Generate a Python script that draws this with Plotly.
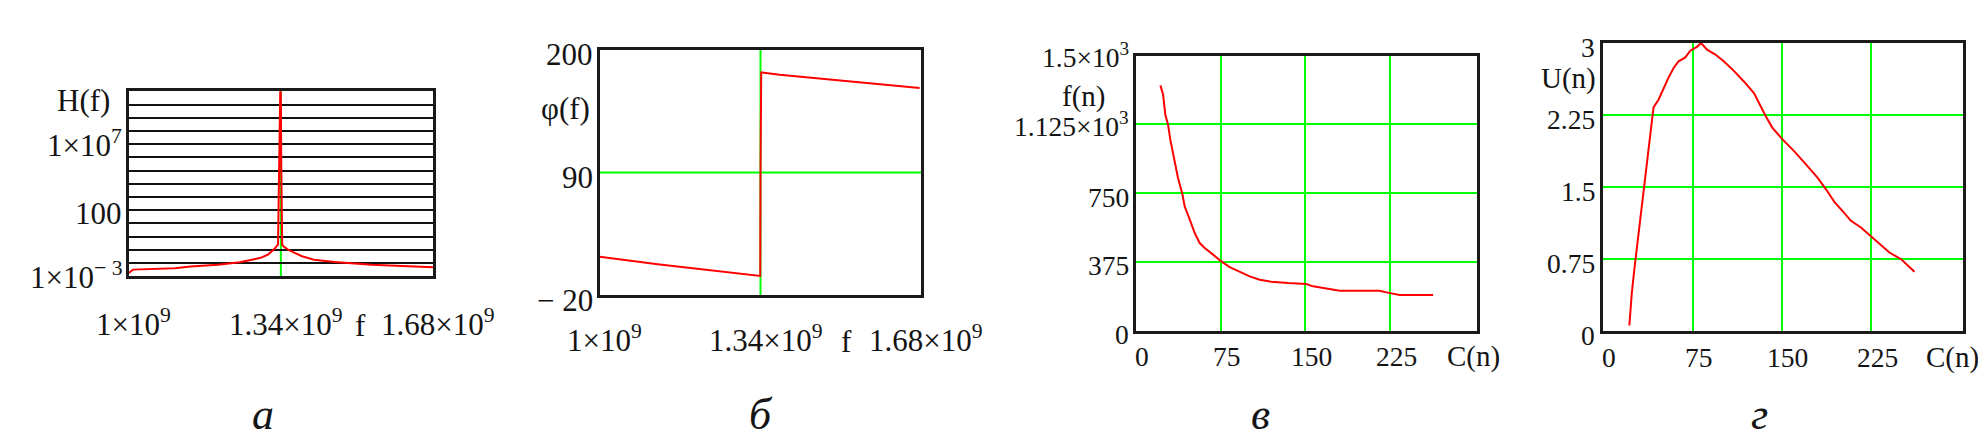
import math
import plotly.graph_objects as go

W, H = 1986, 438
SERIF = "Liberation Serif"
TXT = "#141414"
RED = "#ff0000"
GREEN = "#00ff00"

# ---------------- data ----------------
# panel а : H(f), log scale
a_f = [1.0000e9, 1.0097e9, 1.1028e9, 1.1385e9, 1.1996e9, 1.2480e9, 1.2756e9, 1.2949e9,
       1.3113e9, 1.3240e9, 1.3337e9, 1.3395e9, 1.3410e9, 1.3430e9, 1.3456e9, 1.3560e9,
       1.3709e9, 1.3873e9, 1.4141e9, 1.4603e9, 1.5422e9, 1.6353e9, 1.6800e9]
a_H = [1.8e-3, 3.2e-3, 4.0e-3, 5.4e-3, 7.6e-3, 1.15e-2, 1.8e-2, 2.5e-2,
       4.4e-2, 0.105, 0.25, 1e13, 1.6e5, 0.25, 0.19, 0.105,
       0.059, 0.033, 0.018, 0.0123, 0.0076, 0.0051, 0.0048]
a_xticks = [1.0e9, 1.34e9, 1.68e9]
a_xtext = ["1×10<sup>9</sup>", "1.34×10<sup>9</sup>", "1.68×10<sup>9</sup>"]
a_yticks = [1e-3, 100, 1e7]
a_ytext = ["1×10<sup>− 3</sup>", "100", "1×10<sup>7</sup>"]
a_marker = 1.34e9

# panel б : phase
b_f = [1.0000e9, 1.0303e9, 1.0775e9, 1.1268e9, 1.1783e9, 1.2325e9, 1.2889e9, 1.3347e9,
       1.3395e9, 1.3400e9, 1.3415e9, 1.3805e9, 1.4418e9, 1.5038e9, 1.5708e9, 1.6391e9, 1.6765e9]
b_phi = [14.5, 12.8, 9.9, 7.5, 5.1, 2.7, 0.0, -2.4,
         -2.6, 90.0, 179.7, 177.6, 175.2, 172.8, 170.4, 167.8, 165.7]
b_xticks = [1.0e9, 1.34e9, 1.68e9]
b_xtext = ["1×10<sup>9</sup>", "1.34×10<sup>9</sup>", "1.68×10<sup>9</sup>"]
b_yticks = [200, 90, -20]
b_ytext = ["200", "90", "− 20"]
b_marker_x = 1.34e9
b_marker_y = 90

# panel в : f(n) vs C(n)
c_C = [21.8, 24.2, 26.2, 28.6, 30.6, 34.5, 37.4, 41.3, 43.3, 47.8, 52.2, 56.6, 61.0, 68.4,
       75.7, 83.1, 91.9, 100.8, 109.6, 119.9, 134.7, 150.9, 156.8, 168.6, 180.4, 215.8,
       221.6, 233.4, 262.9]
c_f = [1338, 1288, 1178, 1124, 1042, 933, 833, 744, 678, 606, 533, 478, 451, 415,
       378, 347, 322, 296, 278, 267, 260, 255, 242, 231, 218, 218,
       209, 195, 195]
c_xticks = [0, 75, 150, 225]
c_xtext = ["0", "75", "150", "225"]
c_yticks = [0, 375, 750, 1125, 1500]
c_ytext = ["0", "375", "750", "1.125×10<sup>3</sup>", "1.5×10<sup>3</sup>"]

# panel г : U(n) vs C(n)
d_C = [21.9, 22.5, 23.9, 25.9, 28.1, 30.4, 32.3, 34.6, 36.6, 38.8, 40.8, 42.2, 46.4, 50.6,
       54.8, 59.1, 63.3, 68.9, 73.1, 78.7, 82.1, 87.2, 94.2, 101.2, 109.7, 118.1, 126.6,
       136.4, 142.0, 150.4, 160.3, 170.1, 180.0, 187.0, 194.0, 201.1, 208.1, 216.5, 225.0,
       233.4, 240.4, 250.3, 261.5]
d_U = [0.06, 0.17, 0.39, 0.625, 0.85, 1.08, 1.28, 1.50, 1.74, 1.95, 2.17, 2.33, 2.41, 2.53,
       2.64, 2.74, 2.81, 2.85, 2.92, 2.96, 3.00, 2.93, 2.88, 2.81, 2.71, 2.60, 2.48,
       2.24, 2.12, 2.00, 1.875, 1.74, 1.60, 1.48, 1.35, 1.25, 1.15, 1.08, 0.99,
       0.90, 0.82, 0.75, 0.62]
d_xticks = [0, 75, 150, 225]
d_xtext = ["0", "75", "150", "225"]
d_yticks = [0, 0.75, 1.5, 2.25, 3]
d_ytext = ["0", "0.75", "1.5", "2.25", "3"]

captions = ["а", "б", "в", "г"]

# ---------------- layout geometry (pixels) ----------------
boxes = {  # left, right, top, bottom
    1: (120.7, 425.0, 83.3, 268.3),
    2: (591.7, 913.3, 41.7, 287.3),
    3: (1127.7, 1469.3, 47.7, 322.7),
    4: (1595.3, 1954.7, 35.0, 323.3),
}

def xd(l, r):
    return [l / W, r / W]

def yd(t, b):
    return [1 - b / H, 1 - t / H]

fig = go.Figure()
fig.add_trace(go.Scatter(x=a_f, y=a_H, mode="lines", line=dict(color=RED, width=2),
                         xaxis="x", yaxis="y", showlegend=False))
fig.add_trace(go.Scatter(x=b_f, y=b_phi, mode="lines", line=dict(color=RED, width=2),
                         xaxis="x2", yaxis="y2", showlegend=False))
fig.add_trace(go.Scatter(x=c_C, y=c_f, mode="lines", line=dict(color=RED, width=2),
                         xaxis="x3", yaxis="y3", showlegend=False))
fig.add_trace(go.Scatter(x=d_C, y=d_U, mode="lines", line=dict(color=RED, width=2),
                         xaxis="x4", yaxis="y4", showlegend=False))

box_line = dict(showline=True, mirror=True, linecolor="#1a1a1a", linewidth=2.5,
                ticks="", showticklabels=False, zeroline=False)

layout = dict(width=W, height=H, margin=dict(l=0, r=0, t=0, b=0),
              paper_bgcolor="white", plot_bgcolor="white", showlegend=False)

l, r, t, b = boxes[1]
layout["xaxis"] = dict(domain=xd(l, r), anchor="y", range=[1.0e9, 1.68e9], showgrid=False, **box_line)
layout["yaxis"] = dict(domain=yd(t, b), anchor="x", type="log", range=[-3, 11],
                       tickvals=[10.0 ** k for k in range(-3, 12)], showgrid=True,
                       gridcolor="#111111", gridwidth=2, **box_line)
l, r, t, b = boxes[2]
layout["xaxis2"] = dict(domain=xd(l, r), anchor="y2", range=[1.0e9, 1.68e9], showgrid=False, **box_line)
layout["yaxis2"] = dict(domain=yd(t, b), anchor="x2", range=[-20, 200], showgrid=False, **box_line)
l, r, t, b = boxes[3]
layout["xaxis3"] = dict(domain=xd(l, r), anchor="y3", range=[0, 302], tickvals=c_xticks[1:],
                        showgrid=True, gridcolor=GREEN, gridwidth=2, **box_line)
layout["yaxis3"] = dict(domain=yd(t, b), anchor="x3", range=[0, 1500], tickvals=c_yticks[1:-1],
                        showgrid=True, gridcolor=GREEN, gridwidth=2, **box_line)
l, r, t, b = boxes[4]
layout["xaxis4"] = dict(domain=xd(l, r), anchor="y4", range=[0, 302], tickvals=d_xticks[1:],
                        showgrid=True, gridcolor=GREEN, gridwidth=2, **box_line)
layout["yaxis4"] = dict(domain=yd(t, b), anchor="x4", range=[0, 3], tickvals=d_yticks[1:-1],
                        showgrid=True, gridcolor=GREEN, gridwidth=2, **box_line)
fig.update_layout(**layout)

# marker lines (green)
fig.add_shape(type="line", xref="x", yref="y domain", x0=a_marker, x1=a_marker, y0=0, y1=1,
              line=dict(color=GREEN, width=2), layer="below")
fig.add_shape(type="line", xref="x2", yref="y2 domain", x0=b_marker_x, x1=b_marker_x, y0=0, y1=1,
              line=dict(color=GREEN, width=2), layer="below")
fig.add_shape(type="line", xref="x2 domain", yref="y2", x0=0, x1=1, y0=b_marker_y, y1=b_marker_y,
              line=dict(color=GREEN, width=2), layer="below")

anns = []

def txt(text, size, **kw):
    d = dict(text=text, showarrow=False, font=dict(family=SERIF, size=size, color=TXT))
    d.update(kw)
    anns.append(d)

def sup_up(s):
    return 4 if "<sup>" in s else 0

FS_AB = 31
FS_CD = 27.5
FS_NAME_CD = 29

# panel а labels
for v, s in zip(a_yticks, a_ytext):
    txt(s, FS_AB, x=0, xref="x domain", y=math.log10(v), yref="y",
        xanchor="right", yanchor="middle", xshift=-5, yshift=-3 + sup_up(s))
for v, s in zip(a_xticks, a_xtext):
    txt(s, FS_AB, x=v, xref="x", y=0, yref="y domain",
        xanchor="center", yanchor="middle", xshift=5, yshift=-46)
txt("f", FS_AB, x=352 / W, xref="paper", y=0, yref="y domain", xanchor="center",
    yanchor="middle", yshift=-49)
txt("H(f)", FS_AB, x=75 / W, xref="paper", y=1 - 92 / H, yref="paper",
    xanchor="center", yanchor="middle")

# panel б labels
for v, s in zip(b_yticks, b_ytext):
    txt(s, FS_AB, x=0, xref="x2 domain", y=v, yref="y2",
        xanchor="right", yanchor="middle", xshift=-5, yshift=-5)
for v, s in zip(b_xticks, b_xtext):
    txt(s, FS_AB, x=v, xref="x2", y=0, yref="y2 domain",
        xanchor="center", yanchor="middle", xshift=5, yshift=-43)
txt("f", FS_AB, x=838 / W, xref="paper", y=0, yref="y2 domain", xanchor="center",
    yanchor="middle", yshift=-46)
txt("φ(f)", FS_AB, x=557 / W, xref="paper", y=1 - 101 / H, yref="paper",
    xanchor="center", yanchor="middle")

# panel в labels
for v, s in zip(c_yticks, c_ytext):
    txt(s, FS_CD, x=0, xref="x3 domain", y=v, yref="y3",
        xanchor="right", yanchor="middle", xshift=-5, yshift=-4 + sup_up(s))
for v, s in zip(c_xticks, c_xtext):
    txt(s, FS_CD, x=v, xref="x3", y=0, yref="y3 domain",
        xanchor="center", yanchor="middle", xshift=6, yshift=-26)
txt("C(n)", FS_NAME_CD, x=1465 / W, xref="paper", y=0, yref="y3 domain", xanchor="center",
    yanchor="middle", yshift=-26)
txt("f(n)", FS_NAME_CD, x=1075 / W, xref="paper", y=1 - 88 / H, yref="paper",
    xanchor="center", yanchor="middle")

# panel г labels
for v, s in zip(d_yticks, d_ytext):
    txt(s, FS_CD, x=0, xref="x4 domain", y=v, yref="y4",
        xanchor="right", yanchor="middle", xshift=-6, yshift=-4)
for v, s in zip(d_xticks, d_xtext):
    txt(s, FS_CD, x=v, xref="x4", y=0, yref="y4 domain",
        xanchor="center", yanchor="middle", xshift=6, yshift=-26)
txt("C(n)", FS_NAME_CD, x=1944 / W, xref="paper", y=0, yref="y4 domain", xanchor="center",
    yanchor="middle", yshift=-26)
txt("U(n)", FS_NAME_CD, x=1560 / W, xref="paper", y=1 - 70 / H, yref="paper",
    xanchor="center", yanchor="middle")

# captions
cap_x = [255, 753, 1252, 1751]
for cx, s in zip(cap_x, captions):
    txt("<i>" + s + "</i>", 44, x=cx / W, xref="paper", y=1 - 406 / H, yref="paper",
        xanchor="center", yanchor="middle")

fig.update_layout(annotations=anns)
fig.write_html("out.html")
